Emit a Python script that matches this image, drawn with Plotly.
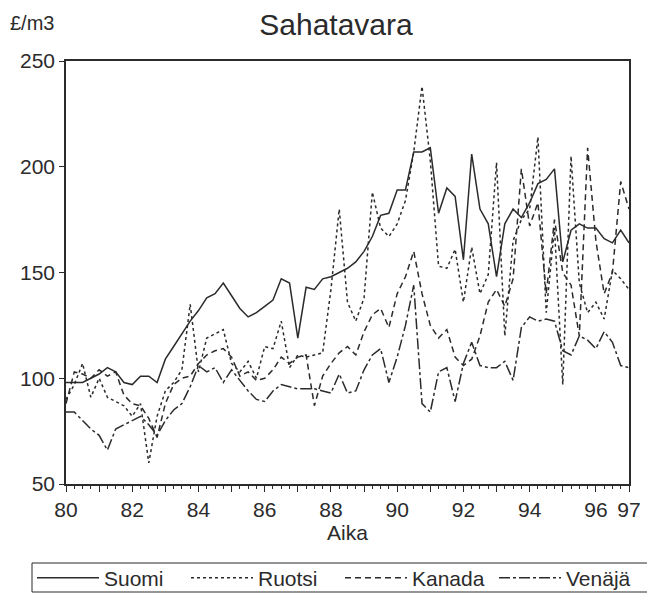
import plotly.graph_objects as go

# quarterly observations 1980Q1 .. 1997Q1
start_year = 80
n_obs = 69
aika = [start_year + q / 4 for q in range(n_obs)]

suomi = [98, 98, 98, 100, 102, 105, 103, 98, 97, 101,
         101, 98, 109, 115, 121, 127, 132, 138, 140, 145,
         139, 133, 129, 131, 134, 137, 147, 145, 119, 143,
         142, 147, 148, 150, 152, 155, 160, 167, 177, 178,
         189, 189, 207, 207, 209, 178, 190, 186, 156, 206,
         180, 173, 148, 173, 180, 176, 183, 192, 194, 199,
         155, 170, 173, 171, 171, 166, 164, 170, 164]

ruotsi = [90, 97, 107, 91, 100, 91, 89, 87, 82, 88,
          60, 82, 94, 98, 104, 135, 103, 119, 121, 123,
          107, 103, 108, 100, 115, 114, 127, 105, 111, 110,
          111, 112, 142, 180, 136, 127, 138, 188, 171, 167,
          173, 184, 207, 238, 203, 153, 152, 161, 136, 162,
          140, 149, 202, 120, 165, 175, 180, 214, 131, 171,
          97, 205, 145, 131, 136, 128, 151, 147, 142]

kanada = [88, 103, 102, 100, 104, 101, 103, 92, 88, 87,
          81, 72, 88, 97, 100, 101, 107, 111, 113, 114,
          110, 101, 103, 99, 100, 104, 110, 107, 110, 111,
          87, 101, 107, 112, 115, 111, 122, 130, 133, 124,
          140, 148, 160, 140, 125, 119, 123, 110, 106, 109,
          120, 136, 142, 134, 147, 199, 172, 183, 140, 175,
          150, 144, 120, 209, 165, 140, 150, 193, 180]

venaja = [84, 84, 80, 76, 73, 66, 76, 78, 80, 82,
          78, 73, 80, 85, 88, 96, 106, 103, 105, 98,
          104, 99, 94, 90, 89, 94, 97, 96, 95, 95,
          95, 94, 93, 102, 93, 94, 104, 111, 114, 98,
          110, 125, 144, 88, 84, 103, 105, 89, 107, 117,
          106, 105, 105, 108, 99, 124, 129, 127, 128, 127,
          113, 111, 120, 118, 114, 122, 117, 106, 105]

series_names = ["Suomi", "Ruotsi", "Kanada", "Venäjä"]
x_tick_vals = [80, 81, 82, 83, 84, 85, 86, 87, 88, 89, 90, 91, 92, 93, 94, 95, 96, 97]
x_tick_text = ["80", "", "82", "", "84", "", "86", "", "88", "", "90", "", "92", "", "94", "", "96", "97"]
y_tick_vals = [50, 100, 150, 200, 250]

FONT = "Liberation Sans, Arial, sans-serif"
INK = "#2b2b2b"
dashes = ["solid", "3px,3px", "6px,4px", "11px,3px,3px,3px"]
data = [suomi, ruotsi, kanada, venaja]

fig = go.Figure()
for name, vals, dash in zip(series_names, data, dashes):
    fig.add_trace(go.Scatter(x=aika, y=vals, mode="lines", name=name,
                             line=dict(color=INK, width=1.5, dash=dash)))

W, H = 647, 593
ml, mr, mt, mb = 66, 0, 61, 109
plot_w = W - ml - mr
plot_h = H - mt - mb


def px_x(px):
    return (px - ml) / plot_w


def px_y(py):
    return (H - mb - py) / plot_h


fig.update_layout(
    width=W, height=H,
    margin=dict(l=ml, r=mr, t=mt, b=mb, autoexpand=False),
    paper_bgcolor="white", plot_bgcolor="white",
    font=dict(family=FONT, size=21, color=INK),
    title=dict(text="Sahatavara", x=px_x(336), xref="paper", xanchor="center",
               y=1 - 24 / H, yref="container", yanchor="middle",
               font=dict(size=30, family=FONT, color=INK)),
    showlegend=True,
    legend=dict(orientation="h", x=px_x(32), xanchor="left",
                y=px_y(578), yanchor="middle",
                borderwidth=0, bgcolor="rgba(0,0,0,0)",
                font=dict(size=21, family=FONT, color=INK),
                itemwidth=62, entrywidth=77, entrywidthmode="pixels",
                tracegroupgap=0),
    shapes=[dict(type="rect", xref="paper", yref="paper",
                 x0=px_x(32), x1=px_x(680), y0=px_y(592), y1=px_y(563),
                 line=dict(color=INK, width=1), fillcolor="rgba(0,0,0,0)")],
    annotations=[dict(text="£/m3", x=px_x(8), xref="paper", y=px_y(23), yref="paper",
                      xanchor="left", yanchor="middle", showarrow=False,
                      font=dict(size=20, family=FONT, color=INK))],
)
fig.update_xaxes(domain=[0, px_x(629)], range=[80, 97],
                 tickvals=x_tick_vals, ticktext=x_tick_text,
                 ticks="outside", ticklen=6, tickwidth=1, tickcolor=INK,
                 minor=dict(dtick=0.25, ticks="outside", ticklen=3, tickcolor=INK, tick0=80),
                 showline=True, linecolor=INK, linewidth=1.5, mirror=True,
                 showgrid=False, zeroline=False,
                 title=dict(text="Aika", standoff=0, font=dict(size=21, family=FONT, color=INK)),
                 tickfont=dict(size=21, family=FONT, color=INK))
fig.update_yaxes(range=[50, 250], tickvals=y_tick_vals,
                 ticks="outside", ticklen=5, tickwidth=1, tickcolor=INK,
                 showline=True, linecolor=INK, linewidth=1.5, mirror=True,
                 showgrid=False, zeroline=False,
                 tickfont=dict(size=21, family=FONT, color=INK))

fig.write_html("out.html")
